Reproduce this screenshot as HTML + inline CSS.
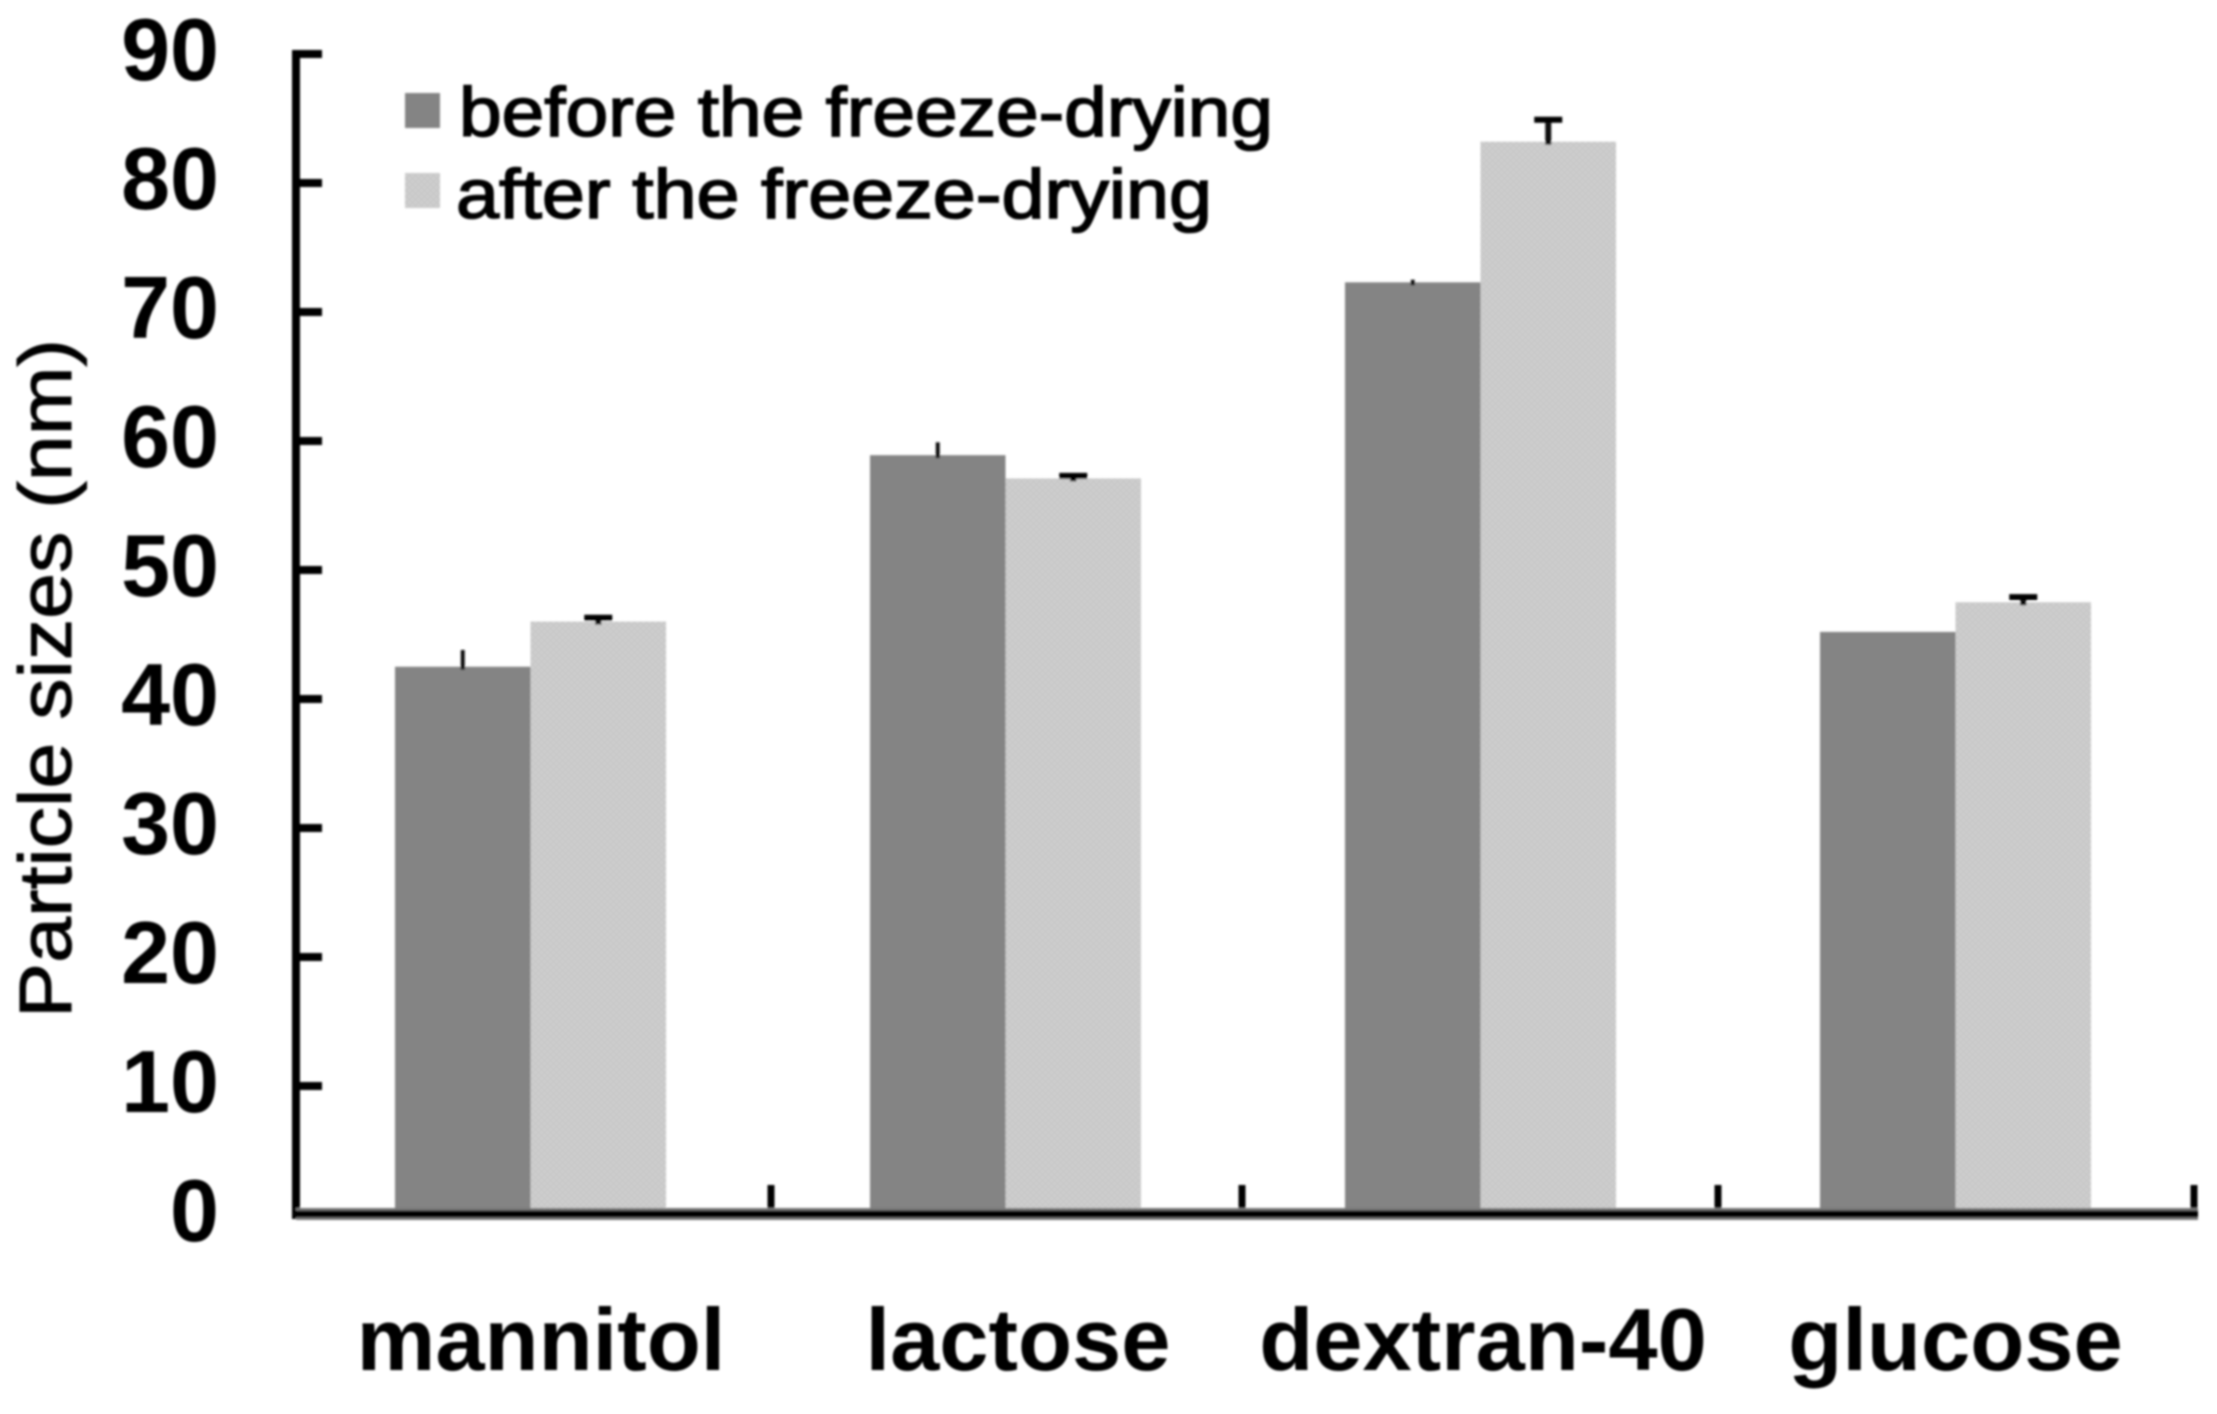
<!DOCTYPE html>
<html lang="en">
<head>
<meta charset="utf-8">
<title>Particle sizes before and after freeze-drying</title>
<style>
html,body{margin:0;padding:0;background:#fff;width:2217px;height:1414px;overflow:hidden}
svg{display:block}
text{font-family:"Liberation Sans",sans-serif;fill:#000}
.b{font-weight:700}
</style>
</head>
<body>
<svg id="chart" width="2217" height="1414" viewBox="0 0 2217 1414" xmlns="http://www.w3.org/2000/svg">
  <defs>
    <pattern id="dither" width="6" height="6" patternUnits="userSpaceOnUse">
      <rect width="6" height="6" fill="#cfcfcf"/>
      <rect width="3" height="3" fill="#c6c6c6"/>
      <rect x="3" y="3" width="3" height="3" fill="#c6c6c6"/>
    </pattern>
    <filter id="soft" x="-2%" y="-2%" width="104%" height="104%"><feGaussianBlur stdDeviation="1"/></filter>
  </defs>
  <rect width="2217" height="1414" fill="#fff"/>
  <g id="plot" filter="url(#soft)">
    <g id="bars"></g>
    <g id="errors"></g>
    <g id="axes"></g>
    <g id="labels"></g>
    <text transform="translate(71,1018) rotate(-90)" font-size="74" textLength="679" lengthAdjust="spacingAndGlyphs" stroke="#000" stroke-width="1">Particle sizes (nm)</text>
    <g>
      <g>
        <rect x="405" y="93" width="35" height="35" fill="#848484"/>
        <text x="459" y="136" font-size="70" textLength="814" lengthAdjust="spacingAndGlyphs" stroke="#000" stroke-width="1.6">before the freeze-drying</text>
      </g>
      <g>
        <rect x="405" y="173" width="35" height="35" fill="url(#dither)"/>
        <text x="456" y="218" font-size="70" textLength="756" lengthAdjust="spacingAndGlyphs" stroke="#000" stroke-width="1.6">after the freeze-drying</text>
      </g>
    </g>
  </g>
</svg>
<script>
const categories = ["mannitol", "lactose", "dextran-40", "glucose"];
const beforeValues = [42.5, 58.9, 72.3, 45.2];
const afterValues = [46, 57.1, 83.2, 47.5];
const beforeErrors = [1.3, 1.0, 0.2, 0];
const afterErrors = [0.3, 0.2, 1.7, 0.4];
const yTickValues = [0, 10, 20, 30, 40, 50, 60, 70, 80, 90];

const NS = "http://www.w3.org/2000/svg";
const axisLeft = 296, axisBottom = 1215, unitHeight = 12.9, bandWidth = 475, barWidth = 135.5, barInset = 99;
function yScale(v) { return axisBottom - v * unitHeight; }
function bandStart(i) { return axisLeft + bandWidth * i; }
function barX(i, s) { return bandStart(i) + barInset + s * barWidth; }
function make(tag, parent, attrs) {
  const el = document.createElementNS(NS, tag);
  Object.keys(attrs).forEach(function (k) { el.setAttribute(k, attrs[k]); });
  parent.appendChild(el);
  return el;
}
const barsG = document.getElementById("bars");
const errorsG = document.getElementById("errors");
const axesG = document.getElementById("axes");
const labelsG = document.getElementById("labels");
const seriesValues = [beforeValues, afterValues];
const seriesErrors = [beforeErrors, afterErrors];
const seriesFills = ["#848484", "url(#dither)"];
const seriesNames = ["before", "after"];
const labelNudge = [10.5, 12.5, 2.5, 0];
const tickNudge = [0, -4, -3, -2];

categories.forEach(function (cat, i) {
  seriesValues.forEach(function (vals, s) {
    const top = yScale(vals[i]);
    const bar = make("rect", barsG, { x: barX(i, s), y: top, width: barWidth, height: axisBottom - top, fill: seriesFills[s] });
    
    
    const err = seriesErrors[s][i];
    if (err > 0) {
      const cx = barX(i, s) + barWidth / 2;
      const errTop = yScale(vals[i] + err);
      const stem = make("line", errorsG, { x1: cx, x2: cx, y1: top + 3, y2: errTop, stroke: "#111", "stroke-width": s === 0 ? 4 : 6 });
      
      
      if (s === 1) {
        const cap = make("line", errorsG, { x1: cx - 14, x2: cx + 14, y1: errTop, y2: errTop, stroke: "#000", "stroke-width": 6 });
        
        
      }
    }
  });
  const label = make("text", labelsG, { x: bandStart(i) + barInset + barWidth + labelNudge[i], y: 1370, "font-size": 88.5, "text-anchor": "middle", class: "b" });
  label.textContent = cat;
  
  
  const tx = bandStart(i + 1) + tickNudge[i];
  const xt = make("line", axesG, { x1: tx, x2: tx, y1: 1185, y2: axisBottom, stroke: "#000", "stroke-width": 7 });
  
  
});

yTickValues.forEach(function (v) {
  const y = yScale(v);
  if (v > 0) {
    const t = make("line", axesG, { x1: axisLeft, x2: axisLeft + 26, y1: y, y2: y, stroke: "#000", "stroke-width": 8 });
    
    
  }
  const lab = make("text", labelsG, { x: 219, y: y + 26, "font-size": 88, "text-anchor": "end", class: "b" });
  lab.textContent = String(v);
  
  
});

const axisRight = bandStart(categories.length) + tickNudge[3];
const yAxis = make("line", axesG, { x1: axisLeft, x2: axisLeft, y1: yScale(yTickValues[yTickValues.length - 1]) - 4, y2: axisBottom + 4, stroke: "#000", "stroke-width": 8 });


const xHalo = make("line", axesG, { x1: axisLeft, x2: axisRight + 4, y1: axisBottom - 1, y2: axisBottom - 1, stroke: "#777", "stroke-width": 12 });


const xAxis = make("line", axesG, { x1: axisLeft - 4, x2: axisRight + 4, y1: axisBottom - 1, y2: axisBottom - 1, stroke: "#000", "stroke-width": 7 });


</script>
</body>
</html>
